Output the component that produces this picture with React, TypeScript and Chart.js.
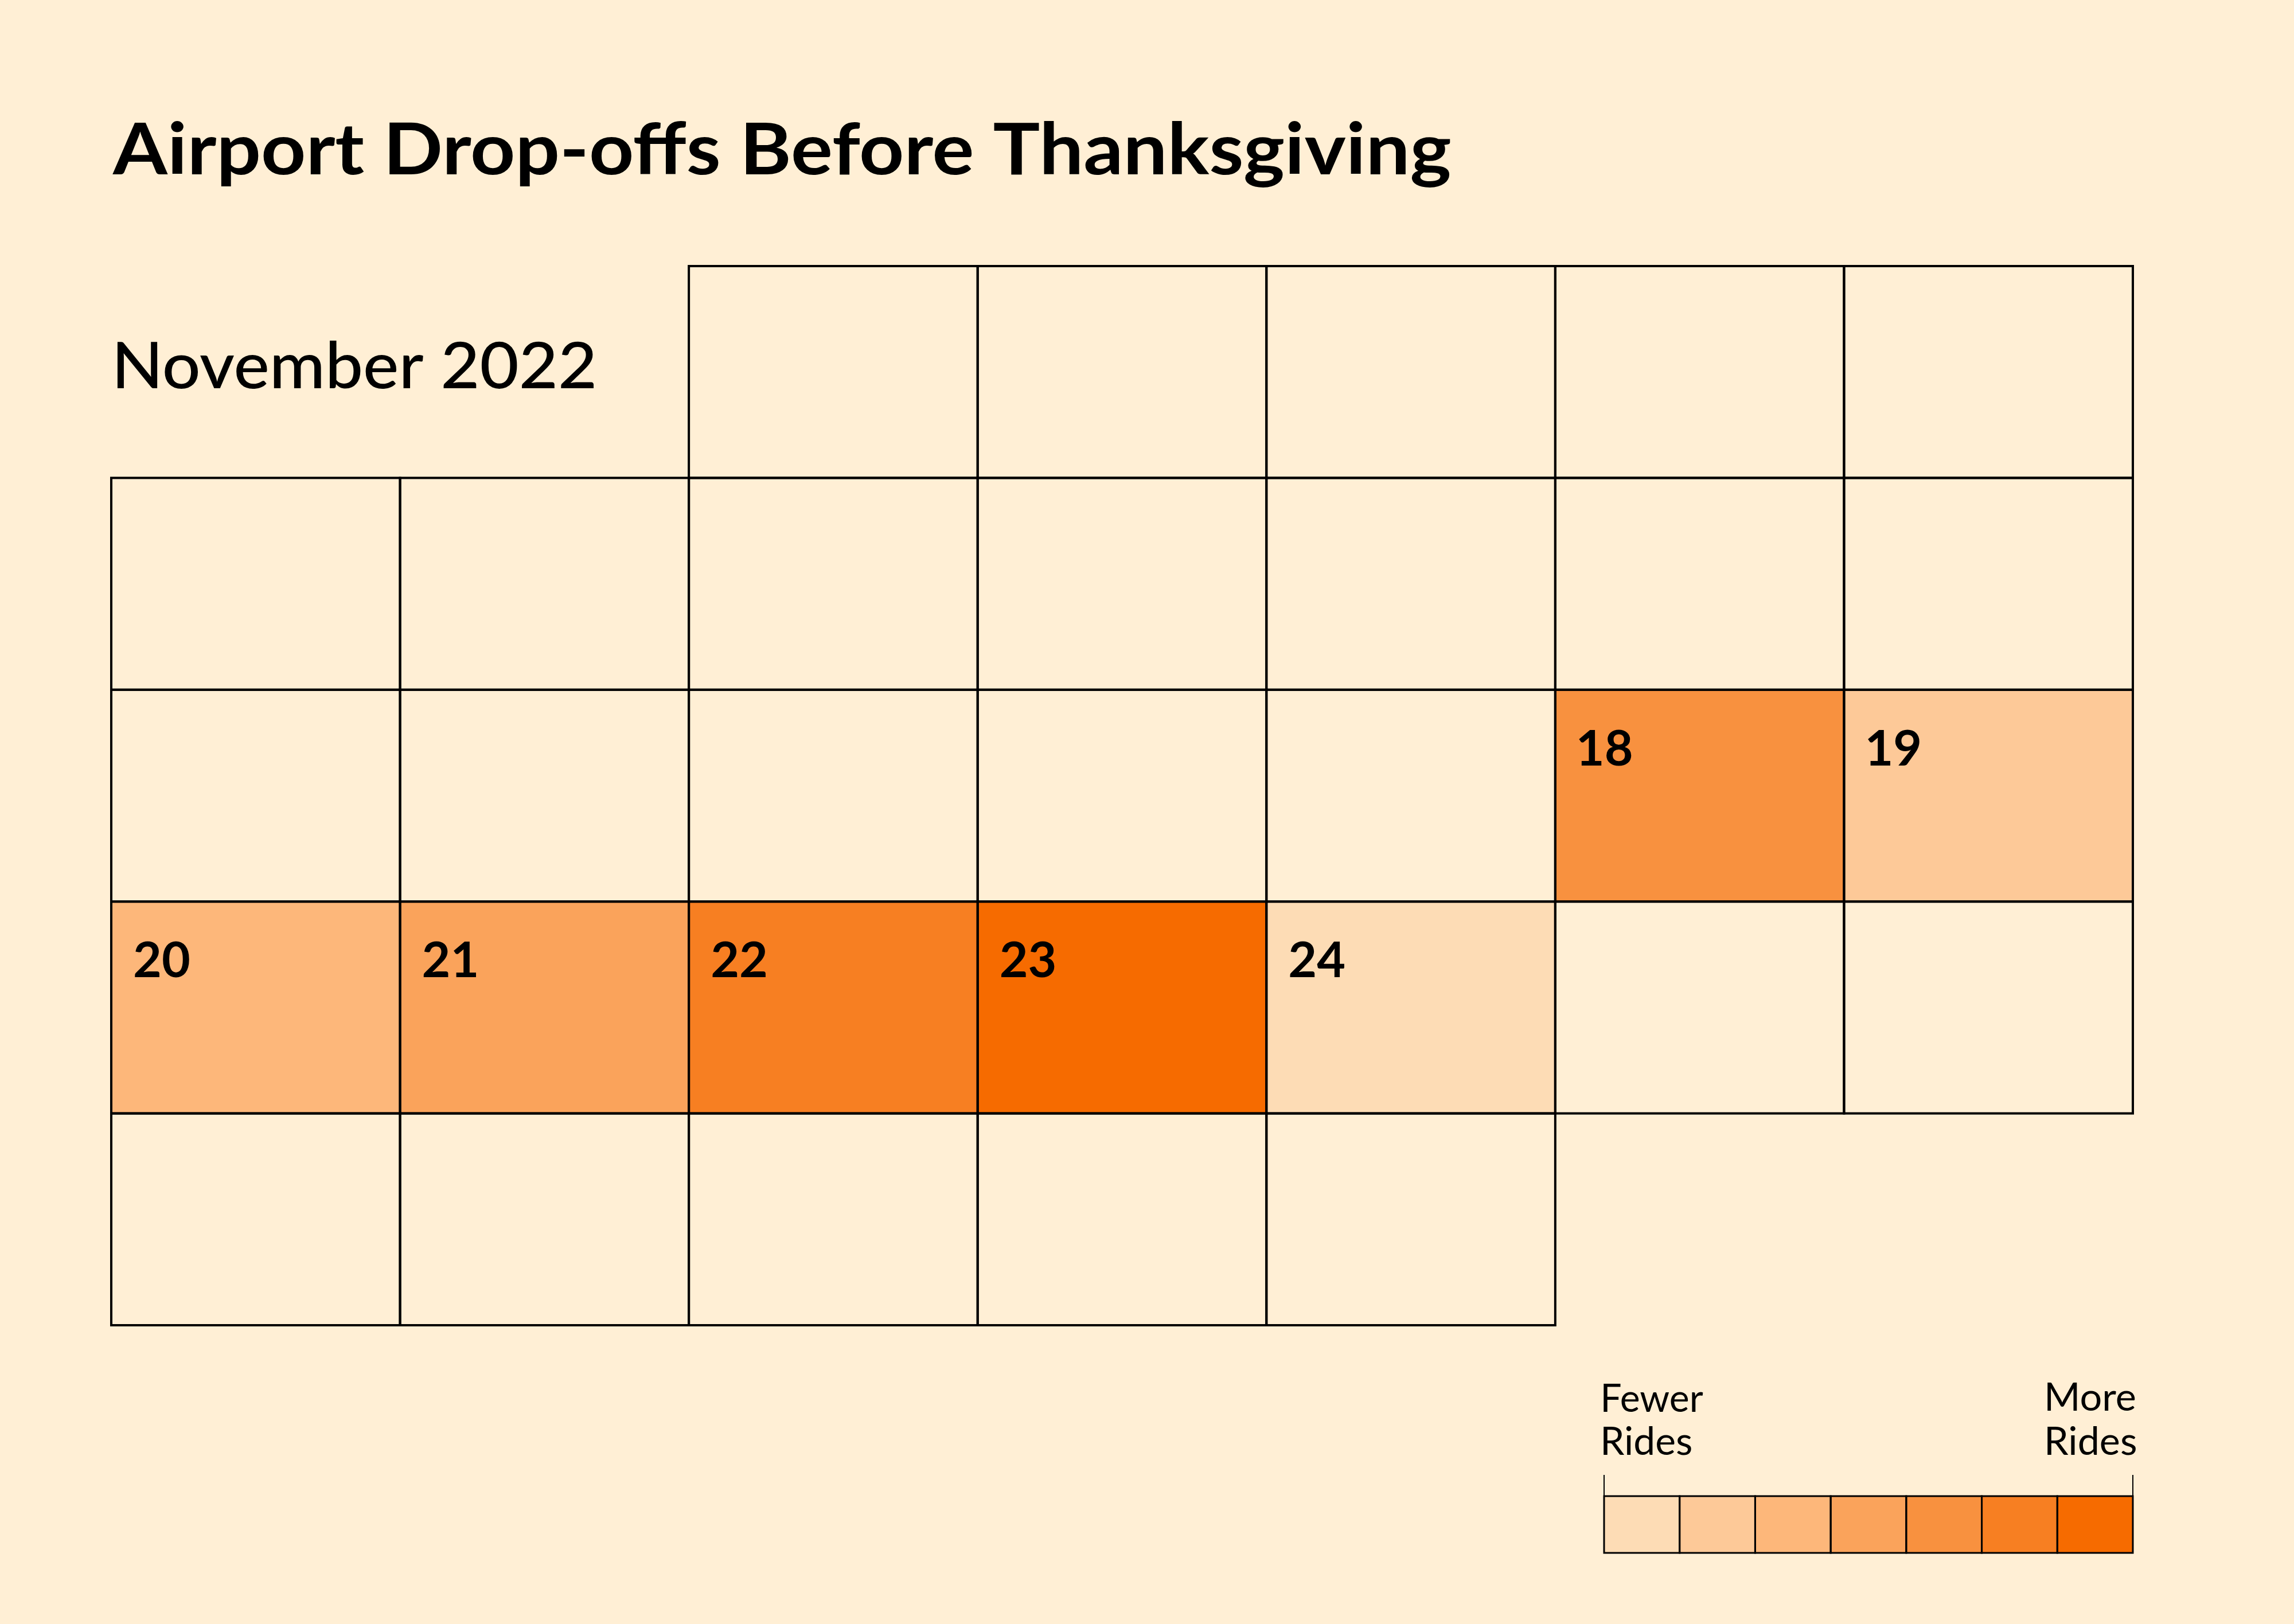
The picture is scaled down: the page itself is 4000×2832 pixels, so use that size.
import React, { useEffect, useRef } from 'react';
import { Chart, registerables } from 'chart.js';

Chart.register(...registerables);

// ---- data ----
const titleText = 'Airport Drop-offs Before Thanksgiving';
const monthLabel = 'November 2022';
const weekdays = ['Sun', 'Mon', 'Tue', 'Wed', 'Thu', 'Fri', 'Sat'];
const firstWeekday = 2; // 1 Nov 2022 is a Tuesday
const weekRows = [0, 1, 2, 3, 4];
const rowFirstCol = [2, 0, 0, 0, 0];
const rowLastCol = [6, 6, 6, 6, 4];
const highlightedDays = [18, 19, 20, 21, 22, 23, 24];
const rideLevels = [5, 2, 3, 4, 6, 7, 1];
const levelColors = ['#FDDCB5', '#FDC998', '#FDB77A', '#FAA35B', '#F8913F', '#F77F22', '#F66B00'];
const legendLowText = ['Fewer', 'Rides'];
const legendHighText = ['More', 'Rides'];

const BG = '#FFEFD5';
const INK = '#000000';
const FONT = 'Lato, "Open Sans", "Noto Sans", sans-serif';

type Cell = { x: string; y: [number, number]; day: number; level: number };

const cells: Cell[] = [];
weekRows.forEach((r) => {
  for (let c = rowFirstCol[r]; c <= rowLastCol[r]; c++) {
    const day = r * 7 + c - firstWeekday + 1;
    const idx = highlightedDays.indexOf(day);
    cells.push({ x: weekdays[c], y: [r, r + 1], day, level: idx >= 0 ? rideLevels[idx] : 0 });
  }
});

function fitText(
  ctx: CanvasRenderingContext2D,
  text: string,
  font: string,
  inkLeft: number,
  inkRight: number,
  baseline: number
) {
  ctx.save();
  ctx.font = font;
  ctx.textAlign = 'left';
  ctx.textBaseline = 'alphabetic';
  const m = ctx.measureText(text);
  const ink = m.actualBoundingBoxLeft + m.actualBoundingBoxRight;
  const sx = ink > 0 ? (inkRight - inkLeft) / ink : 1;
  ctx.translate(inkLeft, baseline);
  ctx.scale(sx, 1);
  ctx.fillStyle = INK;
  ctx.fillText(text, m.actualBoundingBoxLeft, 0);
  ctx.restore();
}

const decorPlugin = {
  id: 'calendarDecor',
  beforeDraw(chart: any) {
    const { ctx, width, height } = chart;
    ctx.save();
    ctx.fillStyle = BG;
    ctx.fillRect(0, 0, width, height);
    ctx.restore();
  },
  afterDatasetsDraw(chart: any) {
    const ctx: CanvasRenderingContext2D = chart.ctx;
    const meta = chart.getDatasetMeta(0);
    const data = chart.data.datasets[0].data as Cell[];
    // grid lines
    ctx.save();
    ctx.strokeStyle = INK;
    ctx.lineWidth = 4;
    meta.data.forEach((el: any) => {
      const { x, y, base, width } = el.getProps(['x', 'y', 'base', 'width'], true);
      const top = Math.min(y, base);
      const h = Math.abs(base - y);
      ctx.strokeRect(x - width / 2, top, width, h);
    });
    ctx.restore();
    // day numbers
    meta.data.forEach((el: any, i: number) => {
      const cell = data[i];
      if (!cell.level) return;
      const { x, y, base, width } = el.getProps(['x', 'y', 'base', 'width'], true);
      const top = Math.min(y, base);
      const left = x - width / 2;
      ctx.save();
      ctx.font = `bold 86px ${FONT}`;
      ctx.textAlign = 'left';
      ctx.textBaseline = 'alphabetic';
      ctx.fillStyle = INK;
      const m = ctx.measureText(String(cell.day));
      ctx.fillText(String(cell.day), left + 41 + m.actualBoundingBoxLeft, top + 132);
      ctx.restore();
    });
  },
  afterDraw(chart: any) {
    const ctx: CanvasRenderingContext2D = chart.ctx;
    const area = chart.chartArea;
    // title and month
    fitText(ctx, titleText, `bold 124px ${FONT}`, 196, 2529, 304);
    fitText(ctx, monthLabel, `500 112px ${FONT}`, 204, 1036, 677);

    // legend scale
    const lx0 = 2797;
    const lx1 = area.right;
    const ly0 = 2609;
    const ly1 = 2708;
    const bw = (lx1 - lx0) / levelColors.length;
    ctx.save();
    levelColors.forEach((col, i) => {
      ctx.fillStyle = col;
      ctx.fillRect(lx0 + i * bw, ly0, bw, ly1 - ly0);
    });
    ctx.strokeStyle = INK;
    ctx.lineWidth = 3;
    levelColors.forEach((_, i) => {
      ctx.strokeRect(lx0 + i * bw, ly0, bw, ly1 - ly0);
    });
    ctx.lineWidth = 2;
    ctx.beginPath();
    ctx.moveTo(lx0, 2572);
    ctx.lineTo(lx0, ly0);
    ctx.moveTo(lx1, 2572);
    ctx.lineTo(lx1, ly0);
    ctx.stroke();
    ctx.restore();

    const lf = `68px ${FONT}`;
    fitText(ctx, legendLowText[0], lf, 2796, 2970, 2462);
    fitText(ctx, legendLowText[1], lf, 2796, 2949, 2537);
    fitText(ctx, legendHighText[0], lf, 3570, 3723, 2460);
    fitText(ctx, legendHighText[1], lf, 3570, 3724, 2537);
  },
};

export default function App() {
  const canvasRef = useRef<HTMLCanvasElement | null>(null);

  useEffect(() => {
    const canvas = canvasRef.current;
    if (!canvas) return;
    const chart = new Chart(canvas, {
      type: 'bar',
      data: {
        labels: weekdays,
        datasets: [
          {
            label: 'Airport drop-offs',
            data: cells as any,
            backgroundColor: cells.map((c) => (c.level ? levelColors[c.level - 1] : BG)),
            borderWidth: 0,
            barPercentage: 1,
            categoryPercentage: 1,
          },
        ],
      },
      options: {
        responsive: false,
        maintainAspectRatio: false,
        devicePixelRatio: 1,
        animation: false,
        events: [],
        layout: { padding: { left: 194, right: 281, top: 464, bottom: 521 } },
        scales: {
          x: { type: 'category', display: false, offset: true, grid: { display: false } },
          y: { type: 'linear', display: false, min: 0, max: 5, reverse: true, grid: { display: false } },
        },
        plugins: {
          legend: { display: false },
          tooltip: { enabled: false },
          title: { display: false },
        },
      },
      plugins: [decorPlugin],
    });
    return () => chart.destroy();
  }, []);

  return (
    <div style={{ position: 'absolute', left: 0, top: 0, width: 4000, height: 2832, background: BG }}>
      <canvas ref={canvasRef} width={4000} height={2832} style={{ display: 'block', width: 4000, height: 2832 }} />
    </div>
  );
}
